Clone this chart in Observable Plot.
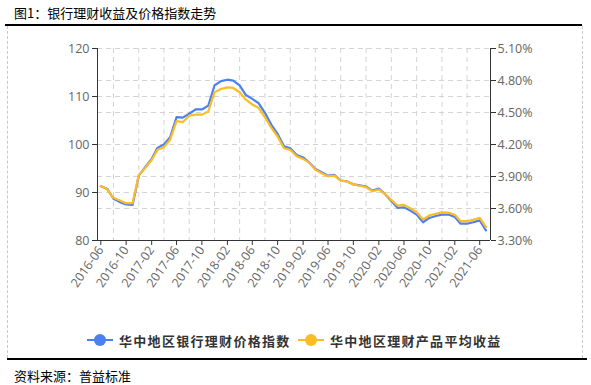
<!DOCTYPE html>
<html>
<head>
<meta charset="utf-8">
<script src="https://cdn.jsdelivr.net/npm/d3@7"></script>
<script src="https://cdn.jsdelivr.net/npm/@observablehq/plot@0.6"></script>
<style>
  html, body { margin: 0; padding: 0; background: #fff; width: 591px; height: 385px; overflow: hidden; position: relative; font-family: "Noto Sans CJK SC", "Noto Sans", sans-serif; }
  .title { position: absolute; left: 14px; top: 3px; font-size: 13px; color: #000; }
  .topline { position: absolute; left: 5px; top: 24px; width: 577px; height: 2px; background: #000; }
  .box { position: absolute; left: 7px; top: 26px; width: 574px; height: 332px; border-left: 1px dashed #c8c8c8; border-right: 1px dashed #c8c8c8; }
  .botline { position: absolute; left: 7px; top: 358px; width: 580px; height: 2px; background: #000; }
  .caption { position: absolute; left: 14px; top: 366px; font-size: 13px; color: #000; }
  #chart { position: absolute; left: 0; top: 30px; }
  .legend { position: absolute; top: 331px; left: 0; font-size: 13px; font-weight: 700; color: #333; letter-spacing: 1.3px; }
  .item { position: absolute; white-space: nowrap; display: flex; align-items: center; height: 18px; }
  .sw { position: relative; width: 26px; height: 18px; margin-right: 6px; }
  .sw .ln { position: absolute; left: 0; top: 8px; width: 26px; height: 2px; }
  .sw .dot { position: absolute; left: 7px; top: 3px; width: 12px; height: 12px; border-radius: 50%; }
</style>
</head>
<body>
<div class="title">图1：银行理财收益及价格指数走势</div>
<div class="topline"></div>
<div class="box"></div>
<div id="chart"></div>
<div class="legend">
  <div class="item" style="left:87px"><div class="sw"><div class="ln" style="background:#4a80f0"></div><div class="dot" style="background:#4a80f0"></div></div>华中地区银行理财价格指数</div>
  <div class="item" style="left:298px"><div class="sw"><div class="ln" style="background:#fbbd23"></div><div class="dot" style="background:#fbbd23"></div></div>华中地区理财产品平均收益</div>
</div>
<div class="botline"></div>
<div class="caption">资料来源：普益标准</div>
<script>
// Months 2016-06 .. 2021-07
const months = d3.utcMonth.range(new Date(Date.UTC(2016, 5, 1)), new Date(Date.UTC(2021, 7, 1)));

// 华中地区银行理财价格指数 (left axis)
const priceIndex = [
  91.3, 90.8, 88.7, 88.0, 87.5, 87.4, 93.5, 95.3, 97.0, 99.3,
  100.0, 101.5, 105.7, 105.6, 106.4, 107.3, 107.3, 108.1, 112.3, 113.2,
  113.5, 113.3, 112.3, 110.3, 109.5, 108.6, 106.6, 104.1, 102.2, 99.65,
  99.2, 97.8, 97.3, 96.3, 94.9, 94.2, 93.5, 93.7, 92.5, 92.3,
  91.7, 91.5, 91.25, 90.4, 90.8, 89.7, 88.2, 86.8, 86.9, 86.25,
  85.4, 83.8, 84.7, 85.1, 85.4, 85.4, 84.9, 83.5, 83.5, 83.8,
  84.2, 82.1
];

// 华中地区理财产品平均收益 (%, right axis)
const avgYield = [
  3.81, 3.78, 3.70, 3.675, 3.65, 3.65, 3.915, 3.98, 4.055, 4.15,
  4.175, 4.245, 4.42, 4.41, 4.47, 4.48, 4.48, 4.51, 4.69, 4.72,
  4.735, 4.73, 4.69, 4.62, 4.575, 4.545, 4.455, 4.355, 4.275, 4.165,
  4.15, 4.09, 4.065, 4.03, 3.963, 3.931, 3.903, 3.909, 3.862, 3.853,
  3.825, 3.813, 3.80, 3.762, 3.778, 3.738, 3.681, 3.628, 3.634, 3.603,
  3.565, 3.497, 3.534, 3.55, 3.565, 3.562, 3.541, 3.481, 3.481, 3.494,
  3.513, 3.425
];

const xTickLabels = ["2016-06","2016-10","2017-02","2017-06","2017-10","2018-02","2018-06","2018-10","2019-02","2019-06","2019-10","2020-02","2020-06","2020-10","2021-02","2021-06"];
const xGridLabels = ["2016-08","2016-12","2017-04","2017-08","2017-12","2018-04","2018-08","2018-12","2019-04","2019-08","2019-12","2020-04","2020-08","2020-12","2021-04"];
const leftTicks = [80, 90, 100, 110, 120];
const rightTicks = [3.30, 3.60, 3.90, 4.20, 4.50, 4.80, 5.10];

const leftMin = 80, leftMax = 120, rightMin = 3.30, rightMax = 5.10;
const toLeft = r => leftMin + (r - rightMin) * (leftMax - leftMin) / (rightMax - rightMin);

const parseM = d3.utcParse("%Y-%m");
const xTicks = xTickLabels.map(parseM);
const xGrid = xGridLabels.map(parseM);

const data = months.map((m, i) => ({date: m, idx: priceIndex[i], yld: toLeft(avgYield[i])}));

const xDomain = [new Date(Date.UTC(2016, 4, 16)), new Date(Date.UTC(2021, 6, 23))];

const plot = Plot.plot({
  width: 591,
  height: 280,
  marginLeft: 97,
  marginRight: 101,
  marginTop: 18,
  marginBottom: 70,
  style: {fontFamily: "'Open Sans', 'Noto Sans', sans-serif", fontSize: "12.5px", background: "transparent"},
  x: {type: "utc", domain: xDomain},
  y: {domain: [leftMin, leftMax]},
  marks: [
    Plot.gridY(leftTicks, {stroke: "#d4d4d4", strokeOpacity: 1, strokeDasharray: "5,4"}),
    Plot.gridY(rightTicks.map(toLeft), {stroke: "#d4d4d4", strokeOpacity: 1, strokeDasharray: "5,4"}),
    Plot.gridX(xGrid, {stroke: "#d4d4d4", strokeOpacity: 1, strokeDasharray: "5,4"}),
    Plot.axisY(leftTicks, {anchor: "left", tickSize: 5, tickPadding: 3, stroke: "#333", fill: "#666", label: null}),
    Plot.axisY(rightTicks.map(toLeft), {anchor: "right", tickSize: 5, tickPadding: 2, stroke: "#333", fill: "#666", label: null,
      tickFormat: v => ((v - leftMin) * (rightMax - rightMin) / (leftMax - leftMin) + rightMin).toFixed(2) + "%"}),
    Plot.axisX(xTicks, {anchor: "bottom", tickSize: 5, tickPadding: 2, tickRotate: -55, stroke: "#333", fill: "#666", label: null,
      tickFormat: d3.utcFormat("%Y-%m")}),
    Plot.ruleY([leftMin], {stroke: "#333"}),
    Plot.ruleX([xDomain[0], xDomain[1]], {stroke: "#333"}),
    Plot.lineY(data, {x: "date", y: "idx", stroke: "#4a80f0", strokeWidth: 2.2}),
    Plot.lineY(data, {x: "date", y: "yld", stroke: "#fbbd23", strokeWidth: 2.2})
  ]
});
document.getElementById("chart").appendChild(plot);
</script>
</body>
</html>
